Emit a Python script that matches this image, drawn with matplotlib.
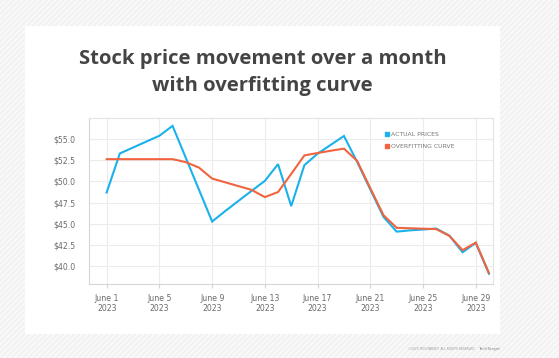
import pandas as pd
import numpy as np
import matplotlib
import matplotlib.pyplot as plt
from matplotlib.patches import Rectangle
from matplotlib.lines import Line2D

# values
dates = pd.date_range('2023-06-01', periods=30, freq='D')
actual_prices = [48.7, 53.33, 54.03, 54.73, 55.43, 56.6, 52.82, 49.03, 45.25, 46.5,
                 47.7, 48.9, 50.07, 52.06, 47.08, 51.94, 53.3, 54.35, 55.4, 52.33,
                 49.05, 45.8, 44.05, 44.2, 44.3, 44.42, 43.57, 41.6, 42.72, 39.05]
overfit_curve = [52.65, 52.65, 52.65, 52.65, 52.65, 52.65, 52.3, 51.65, 50.35, 49.9,
                 49.45, 49.0, 48.15, 48.75, 50.9, 53.1, 53.38, 53.65, 53.9, 52.45,
                 49.2, 46.0, 44.5, 44.45, 44.4, 44.35, 43.55, 41.85, 42.75, 39.15]
tick_dates = pd.to_datetime(['2023-06-01', '2023-06-05', '2023-06-09', '2023-06-13',
                             '2023-06-17', '2023-06-21', '2023-06-25', '2023-06-29'])
tick_labels = ['June 1\n2023', 'June 5\n2023', 'June 9\n2023', 'June 13\n2023',
               'June 17\n2023', 'June 21\n2023', 'June 25\n2023', 'June 29\n2023']
y_ticks = [40.0, 42.5, 45.0, 47.5, 50.0, 52.5, 55.0]

blue = '#1bb1ea'
red = '#f0643f'
grid_col = '#ececec'
label_col = '#6a6a6a'

W, H = 559, 358
fig = plt.figure(figsize=(W / 100, H / 100), dpi=100)
fig.patch.set_facecolor('#f2f2f2')

# hatched backdrop and white card
bg = Rectangle((0, 0), 1, 1, transform=fig.transFigure, facecolor='#f2f2f2',
               edgecolor='#fbfbfb', hatch='//////', linewidth=0, zorder=-2)
fig.patches.append(bg)
card = Rectangle((25 / W, 1 - 333.5 / H), 475 / W, (333.5 - 26) / H, transform=fig.transFigure,
                 facecolor='white', edgecolor='none', zorder=-1)
fig.patches.append(card)

fig.text(262.5 / W, 1 - 72.5 / H, 'Stock price movement over a month\nwith overfitting curve',
         ha='center', va='center', fontsize=14.6, fontweight='bold', color='#444444',
         family='Open Sans', linespacing=1.42)

ax = fig.add_axes([89 / W, 1 - 284.3 / H, (493.3 - 89) / W, (284.3 - 118.3) / H])
ax.set_zorder(2)
ax.set_facecolor('white')
ax.plot(dates, actual_prices, color=blue, linewidth=1.5, solid_joinstyle='miter', zorder=3)
ax.plot(dates, overfit_curve, color=red, linewidth=1.5, solid_joinstyle='miter', zorder=3)

day = pd.Timedelta(days=1)
ax.set_xlim(dates[0] - 1.34 * day, dates[-1] + 0.33 * day)
ax.set_ylim(37.8, 57.5)
ax.set_xticks(tick_dates)
ax.set_xticklabels(tick_labels)
ax.set_yticks(y_ticks)
ax.set_yticklabels(['$%.1f' % v for v in y_ticks])
ax.grid(True, color=grid_col, linewidth=0.8)
ax.set_axisbelow(True)
for s in ax.spines.values():
    s.set_color('#e4e4e4')
    s.set_linewidth(0.8)
ax.spines['left'].set_color('#d6d6d6')
ax.spines['bottom'].set_color('#d6d6d6')
ax.tick_params(axis='x', colors='#d6d6d6', labelcolor=label_col, labelsize=5.6, length=3, width=0.8, pad=4)
ax.tick_params(axis='y', length=0, labelcolor=label_col, labelsize=5.6, pad=10)

handles = [Line2D([], [], marker='s', linestyle='none', color=blue, markersize=3.2),
           Line2D([], [], marker='s', linestyle='none', color=red, markersize=3.2)]
ax.legend(handles, ['ACTUAL PRICES', 'OVERFITTING CURVE'], loc='upper left',
          bbox_to_anchor=(0.72, 0.95), frameon=False, fontsize=4.4, handlelength=0.6,
          handletextpad=0.3, labelspacing=1.0, labelcolor='#777777')

fig.text(475 / W, 1 - 349 / H, '\u00a92023 TECHTARGET. ALL RIGHTS RESERVED', ha='right', va='center',
         fontsize=2.2, color='#999999')
fig.text(500 / W, 1 - 349 / H, 'TechTarget', ha='right', va='center', fontsize=3, color='#888888')

fig.savefig('out.png', dpi=100, facecolor=fig.get_facecolor())
